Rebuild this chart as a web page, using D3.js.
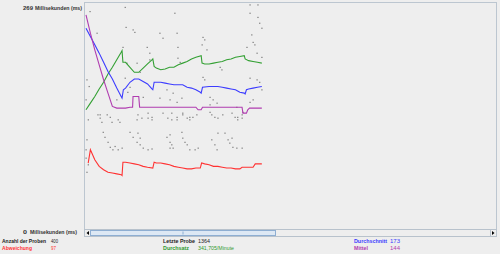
<!DOCTYPE html>
<html>
<head>
<meta charset="utf-8">
<script src="https://cdn.jsdelivr.net/npm/d3@7"></script>
<style>
  body { margin: 0; background: #eeeeee; }
  svg { display: block; font-family: "Liberation Sans", Arial, sans-serif; }
</style>
</head>
<body>
<svg id="drawing_region"></svg>
<script>
// y axis limits (ms) and sample count
const yMaxMs = 269;
const sampleCount = 400;

// [sample index, ms]
const averageLine = [[0,240],[10,230],[20,220],[30,210],[40,199],[50,188],[60,179],[70,168],[80,158],[82,156],[85,166],[90,168],[100,175],[110,179],[120,179],[130,176],[140,173],[150,167],[152,166],[155,175],[170,175],[180,174],[190,173],[200,172],[210,172],[220,172],[230,169],[240,168],[250,166],[260,163],[262,162],[265,169],[280,170],[290,170],[300,170],[310,169],[320,168],[330,167],[340,166],[350,163],[360,162],[362,161],[365,166],[370,167],[380,168],[390,169],[400,170]];
const medianLine = [[0,256],[10,234],[20,214],[30,196],[40,178],[50,162],[60,146],[70,144],[80,144],[90,144],[100,145],[106,145],[107,158],[120,158],[122,145],[130,145],[140,145],[150,145],[160,145],[170,145],[180,145],[190,145],[200,145],[250,145],[255,142],[262,142],[265,145],[300,145],[340,145],[355,145],[357,138],[365,138],[368,142],[372,144],[400,144]];
const deviationLine = [[5,78],[10,94],[20,82],[30,74],[40,70],[50,67],[60,66],[70,65],[80,64],[82,63],[84,79],[90,79],[100,78],[110,77],[120,76],[130,74],[140,73],[152,72],[155,79],[160,78],[170,78],[180,77],[190,76],[200,74],[210,73],[220,72],[230,71],[240,71],[250,72],[260,72],[263,78],[270,77],[280,76],[290,74],[300,74],[310,73],[320,72],[330,72],[340,71],[350,71],[355,73],[370,73],[380,73],[385,77],[400,77]];
const throughputLine = [[0,142],[10,150],[20,158],[30,167],[40,175],[50,185],[60,193],[70,202],[80,211],[82,213],[84,199],[90,199],[100,193],[110,187],[120,187],[130,192],[140,197],[150,202],[152,203],[155,194],[160,192],[170,190],[180,191],[190,193],[200,193],[210,196],[220,198],[230,200],[240,203],[250,205],[262,207],[264,198],[270,197],[280,197],[290,198],[300,199],[310,200],[320,202],[330,203],[340,205],[350,206],[360,207],[362,203],[370,201],[380,200],[390,199],[400,198]];

// single sample response times [sample index, ms]
const dataPoints = [
  [9,260],[2,178],[7,170],[0,154],[5,130],[2,106],[0,94],[5,76],[2,67],[0,84],[25,234],
  [27,136],[32,132],[36,127],[48,136],[59,127],[73,130],[77,127],[32,136],[55,133],[70,154],
  [39,115],[43,109],[50,103],[55,97],[61,94],[73,94],[82,96],[66,98],
  [89,265],[91,241],[84,217],[89,180],[93,198],[95,163],[100,169],[107,238],[111,235],
  [116,198],[123,187],[130,157],[139,217],[145,210],[145,202],[141,138],[150,133],
  [118,136],[127,132],[116,130],[141,132],[150,130],[100,115],[107,109],[116,103],
  [123,100],[123,108],[130,96],[141,94],[150,95],[118,114],
  [168,234],[175,228],[168,156],[184,166],[198,162],[207,234],[209,217],[202,258],
  [175,138],[186,132],[195,130],[207,130],[191,112],[191,103],[195,100],[198,96],[184,109],
  [191,154],[207,151],[218,156],[214,199],[209,204],[195,138],[207,133],[220,138],
  [230,132],[236,130],[243,133],[252,136],[220,136],[236,133],[218,115],[220,108],
  [225,103],[230,100],[236,94],[248,94],[255,96],[191,96],
  [266,229],[270,226],[264,220],[275,214],[266,181],[270,178],[282,157],[289,154],
  [298,150],[282,148],[282,139],[286,136],[293,133],[300,132],[286,106],[293,100],
  [298,94],[300,114],[305,193],[309,190],[311,136],[316,114],[323,106],[327,102],
  [334,97],[332,108],[343,96],[355,96],[332,138],[339,133],[345,130],[355,132],[357,139],
  [343,145],[345,133],[355,136],
  [373,268],[391,268],[373,258],[391,253],[395,246],[400,240],[377,232],[380,223],
  [384,220],[366,217],[389,210],[400,205],[373,180],[389,178],[395,175],[400,166],
  [373,151],[380,154]
];

// footer statistics
const statLabels = ["Anzahl der Proben", "Abweichung", "Letzte Probe", "Durchsatz", "Durchschnitt", "Mittel"];
const statValues = ["400", "97", "1364", "341,705/Minute", "173", "144"];
const axisLabel = "Millisekunden (ms)";

class GraphResults {
    constructor(config) {
        this.config = config;
        this.init();
    }

    init() {
        let self = this;
        self.svg = d3.select(self.config.parent)
            .attr('width', self.config.width)
            .attr('height', self.config.height);

        self.svg.append('rect')
            .attr('width', self.config.width)
            .attr('height', self.config.height)
            .attr('fill', '#eeeeee');

        // sample index -> px (one sample is ~0.44 px here)
        self.xscale = d3.scaleLinear().domain([0, 935]).range([86, 497]);
        self.yscale = d3.scaleLinear().domain([0, yMaxMs]).range([228, 4]);
    }

    render() {
        let self = this;
        const g = self.svg;

        // plot border
        g.append('rect')
            .attr('x', 84.5).attr('y', 2.5)
            .attr('width', 412).attr('height', 227)
            .attr('fill', 'none')
            .attr('stroke', '#bcc6d0');

        // y labels
        const yl = g.append('g')
            .attr('font-size', '6px')
            .attr('font-weight', 'bold')
            .attr('fill', '#333');
        [yMaxMs, 0].forEach(v => {
            const y = self.yscale(v) + 6;
            yl.append('text').attr('x', 23).attr('y', y)
                .attr('textLength', v === 0 ? 4 : 10).attr('lengthAdjust', 'spacingAndGlyphs')
                .text(v);
            yl.append('text').attr('x', v === 0 ? 30 : 35).attr('y', y)
                .attr('textLength', 47).attr('lengthAdjust', 'spacingAndGlyphs')
                .text(axisLabel);
        });

        // data dots
        g.append('g').selectAll('rect')
            .data(dataPoints)
            .enter()
            .append('rect')
            .attr('x', d => self.xscale(d[0]) - 0.5)
            .attr('y', d => self.yscale(d[1]) - 0.5)
            .attr('width', 1.2)
            .attr('height', 1.2)
            .attr('fill', '#777');

        const line = d3.line()
            .x(d => self.xscale(d[0]))
            .y(d => self.yscale(d[1]));

        const series = [
            { data: throughputLine, color: '#33a033' },
            { data: averageLine, color: '#3c3cff' },
            { data: medianLine, color: '#b03cb0' },
            { data: deviationLine, color: '#ff3232' }
        ];
        g.append('g').selectAll('path')
            .data(series)
            .enter()
            .append('path')
            .attr('d', d => line(d.data))
            .attr('fill', 'none')
            .attr('stroke', d => d.color)
            .attr('stroke-width', 1.1);

        // scrollbar
        const sb = g.append('g');
        sb.append('rect').attr('x', 84.5).attr('y', 229.5).attr('width', 412).attr('height', 7)
            .attr('fill', '#eeeeee').attr('stroke', '#b8c2cc');
        sb.append('rect').attr('x', 90.5).attr('y', 230.5).attr('width', 185).attr('height', 5)
            .attr('fill', '#dde8f4').attr('stroke', '#8eaed2');
        sb.append('line').attr('x1', 183).attr('x2', 183).attr('y1', 231.5).attr('y2', 234.5)
            .attr('stroke', '#8eaed2');
        sb.append('path').attr('d', 'M89,231L86.5,233L89,235Z').attr('fill', '#000');
        sb.append('path').attr('d', 'M492,231L494.5,233L492,235Z').attr('fill', '#000');
        sb.append('line').attr('x1', 490.5).attr('x2', 490.5).attr('y1', 230).attr('y2', 236)
            .attr('stroke', '#b8c2cc');

        // footer stats
        const colors = ['#222', '#ff3333', '#222', '#2e9a2e', '#3a3aff', '#b03cb0'];
        const lx = [2, 2, 163, 163, 354, 354];
        const vx = [51, 51, 198, 198, 390, 390];
        const ly = [243, 250, 243, 250, 243, 250];
        const lw = [44, 30, 32, 26, 33, 14];
        const vw = [7, 5, 12, 36, 10, 10];
        const ft = g.append('g').attr('font-size', '5.5px').attr('font-weight', 'bold');
        statLabels.forEach((s, i) => {
            ft.append('text').attr('x', lx[i]).attr('y', ly[i]).attr('fill', colors[i])
                .attr('textLength', lw[i]).attr('lengthAdjust', 'spacingAndGlyphs').text(s);
            ft.append('text').attr('x', vx[i]).attr('y', ly[i]).attr('fill', colors[i])
                .attr('font-weight', 'normal')
                .attr('textLength', vw[i]).attr('lengthAdjust', 'spacingAndGlyphs').text(statValues[i]);
        });
    }
}

const graph = new GraphResults({ parent: '#drawing_region', width: 500, height: 254 });
graph.render();
</script>
</body>
</html>
